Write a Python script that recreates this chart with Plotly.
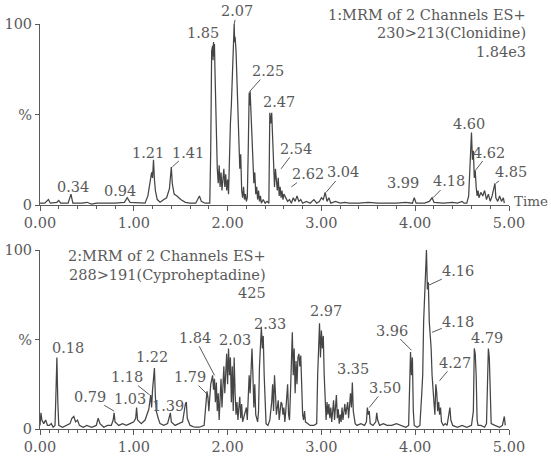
import plotly.graph_objects as go

# ---------------- data ----------------
# Channel 1: 230>213 (Clonidine), relative intensity (%) vs time (min)
clonidine_points = [
    (0.00, 1), (0.05, 1), (0.09, 3), (0.11, 1), (0.18, 1.5), (0.20, 2.5), (0.22, 1),
    (0.30, 1), (0.33, 6), (0.35, 1), (0.45, 1), (0.50, 1.5), (0.55, 0.5), (0.60, 1),
    (0.70, 1), (0.80, 1), (0.90, 1.5), (0.93, 4), (0.96, 1.5), (1.05, 1), (1.12, 1),
    (1.15, 5), (1.17, 12), (1.19, 18), (1.20, 15), (1.21, 25), (1.22, 14), (1.23, 8),
    (1.25, 3), (1.28, 1.5), (1.32, 3), (1.35, 4), (1.38, 9), (1.40, 21), (1.41, 12),
    (1.43, 6), (1.46, 5), (1.50, 3), (1.55, 1.5), (1.60, 1), (1.66, 1), (1.70, 5),
    (1.72, 2), (1.76, 1), (1.81, 1), (1.82, 30), (1.83, 85), (1.84, 88), (1.845, 80),
    (1.85, 90), (1.855, 82), (1.86, 89), (1.865, 75), (1.87, 60), (1.88, 30), (1.89, 20),
    (1.90, 12), (1.91, 22), (1.92, 10), (1.93, 18), (1.94, 8), (1.95, 15), (1.96, 20),
    (1.97, 10), (1.98, 17), (1.99, 8), (2.00, 14), (2.01, 6), (2.02, 30), (2.03, 45),
    (2.04, 55), (2.05, 75), (2.06, 88), (2.065, 92), (2.07, 100), (2.075, 90), (2.08, 93),
    (2.09, 85), (2.10, 70), (2.11, 50), (2.12, 35), (2.13, 20), (2.14, 28), (2.15, 8),
    (2.16, 4), (2.17, 10), (2.18, 3), (2.19, 6), (2.20, 2), (2.21, 4), (2.22, 30),
    (2.23, 62), (2.235, 55), (2.24, 63), (2.25, 50), (2.26, 35), (2.27, 20), (2.28, 12),
    (2.29, 18), (2.30, 6), (2.31, 10), (2.32, 3), (2.33, 8), (2.34, 2), (2.35, 5),
    (2.36, 1), (2.38, 3), (2.40, 1), (2.42, 2), (2.44, 1), (2.45, 51), (2.46, 45),
    (2.47, 51), (2.48, 40), (2.49, 25), (2.50, 10), (2.51, 20), (2.52, 12), (2.53, 8),
    (2.54, 15), (2.55, 5), (2.56, 10), (2.57, 4), (2.58, 8), (2.59, 3), (2.60, 6),
    (2.62, 4), (2.64, 2), (2.66, 3), (2.68, 1), (2.70, 4), (2.72, 2), (2.74, 5),
    (2.76, 2), (2.78, 3), (2.80, 1), (2.84, 2), (2.88, 1), (2.92, 3), (2.95, 1),
    (2.98, 2), (3.00, 4), (3.02, 3), (3.04, 7), (3.06, 2), (3.08, 4), (3.10, 1),
    (3.15, 2), (3.20, 1), (3.25, 1.5), (3.30, 1), (3.40, 1), (3.50, 1.5), (3.60, 1),
    (3.70, 1), (3.80, 1), (3.90, 1.5), (3.97, 1), (3.99, 4), (4.01, 1), (4.10, 1),
    (4.15, 2), (4.18, 4), (4.20, 1.5), (4.30, 1), (4.40, 1.5), (4.45, 1), (4.50, 2),
    (4.52, 1), (4.55, 1), (4.57, 5), (4.58, 20), (4.59, 35), (4.60, 40), (4.61, 25),
    (4.62, 30), (4.63, 15), (4.64, 19), (4.65, 10), (4.66, 5), (4.67, 8), (4.68, 4),
    (4.70, 7), (4.72, 5), (4.74, 8), (4.76, 3), (4.78, 6), (4.80, 2), (4.82, 5),
    (4.84, 9), (4.85, 12), (4.86, 4), (4.88, 2), (4.90, 5), (4.92, 2), (4.94, 4),
    (4.95, 1),
]

# Channel 2: 288>191 (Cyproheptadine)
cypro_points = [
    (0.00, 2), (0.01, 9), (0.02, 5), (0.04, 3), (0.06, 5), (0.08, 2), (0.10, 2),
    (0.12, 3), (0.14, 1), (0.16, 2), (0.17, 20), (0.18, 40), (0.19, 15), (0.20, 2),
    (0.24, 1), (0.28, 2), (0.32, 3), (0.34, 6), (0.36, 7), (0.38, 4), (0.40, 5),
    (0.42, 2), (0.46, 1), (0.50, 2), (0.55, 1), (0.60, 2), (0.62, 6), (0.64, 3),
    (0.68, 1), (0.72, 2), (0.76, 2), (0.78, 5), (0.79, 9), (0.80, 4), (0.84, 2),
    (0.88, 3), (0.92, 2), (0.96, 3), (1.00, 4), (1.02, 6), (1.03, 12), (1.04, 5),
    (1.08, 3), (1.12, 5), (1.14, 8), (1.16, 11), (1.18, 19), (1.19, 12), (1.20, 22),
    (1.21, 28), (1.22, 34), (1.23, 18), (1.24, 10), (1.26, 6), (1.28, 3), (1.32, 2),
    (1.36, 3), (1.38, 7), (1.39, 9), (1.40, 4), (1.44, 2), (1.48, 3), (1.52, 4),
    (1.55, 14), (1.56, 15), (1.57, 6), (1.60, 2), (1.65, 1), (1.70, 1), (1.75, 2),
    (1.77, 15), (1.78, 21), (1.79, 18), (1.80, 10), (1.82, 25), (1.84, 30), (1.85, 22),
    (1.86, 28), (1.87, 15), (1.88, 26), (1.89, 10), (1.90, 20), (1.91, 5), (1.92, 22),
    (1.93, 28), (1.94, 12), (1.95, 30), (1.96, 35), (1.97, 20), (1.98, 38), (1.99, 42),
    (2.00, 25), (2.01, 45), (2.02, 30), (2.03, 40), (2.04, 15), (2.05, 35), (2.06, 10),
    (2.07, 40), (2.08, 20), (2.09, 8), (2.10, 15), (2.11, 5), (2.12, 12), (2.13, 18),
    (2.14, 6), (2.15, 14), (2.16, 4), (2.18, 8), (2.20, 12), (2.21, 5), (2.22, 15),
    (2.23, 30), (2.24, 20), (2.25, 38), (2.26, 45), (2.27, 30), (2.28, 12), (2.29, 25),
    (2.30, 8), (2.32, 4), (2.33, 10), (2.34, 35), (2.35, 50), (2.36, 57), (2.37, 45),
    (2.38, 52), (2.39, 30), (2.40, 10), (2.41, 3), (2.43, 2), (2.45, 5), (2.47, 15),
    (2.48, 25), (2.49, 10), (2.50, 30), (2.51, 20), (2.52, 8), (2.53, 12), (2.54, 16),
    (2.55, 5), (2.57, 15), (2.58, 14), (2.59, 8), (2.60, 12), (2.61, 4), (2.62, 10),
    (2.63, 22), (2.64, 25), (2.65, 8), (2.66, 5), (2.67, 20), (2.68, 35), (2.69, 54),
    (2.70, 30), (2.71, 45), (2.72, 20), (2.73, 38), (2.74, 25), (2.75, 40), (2.76, 42),
    (2.77, 35), (2.78, 41), (2.79, 20), (2.80, 8), (2.81, 5), (2.82, 10), (2.83, 4),
    (2.85, 3), (2.88, 2), (2.92, 2), (2.95, 3), (2.96, 30), (2.97, 45), (2.98, 59),
    (2.99, 40), (3.00, 55), (3.01, 45), (3.02, 52), (3.03, 30), (3.04, 12), (3.05, 5),
    (3.06, 15), (3.07, 8), (3.08, 14), (3.09, 6), (3.10, 12), (3.11, 4), (3.12, 10),
    (3.13, 16), (3.14, 5), (3.15, 13), (3.16, 19), (3.17, 6), (3.18, 11), (3.19, 3),
    (3.20, 8), (3.21, 4), (3.22, 12), (3.23, 5), (3.24, 10), (3.25, 14), (3.26, 8),
    (3.27, 12), (3.28, 15), (3.29, 6), (3.30, 14), (3.31, 20), (3.32, 12), (3.33, 26),
    (3.34, 10), (3.35, 5), (3.36, 3), (3.38, 2), (3.42, 3), (3.46, 2), (3.48, 4),
    (3.49, 12), (3.50, 8), (3.51, 10), (3.52, 3), (3.55, 2), (3.58, 4), (3.59, 9),
    (3.60, 5), (3.62, 2), (3.66, 3), (3.70, 2), (3.75, 2), (3.80, 3), (3.85, 2),
    (3.90, 1), (3.93, 2), (3.94, 35), (3.95, 43), (3.96, 30), (3.97, 40), (3.98, 10),
    (3.99, 2), (4.02, 1), (4.05, 2), (4.07, 20), (4.08, 30), (4.09, 60), (4.10, 75),
    (4.11, 80), (4.12, 100), (4.13, 78), (4.14, 82), (4.15, 60), (4.16, 54), (4.17, 45),
    (4.18, 30), (4.19, 20), (4.20, 15), (4.21, 8), (4.22, 25), (4.23, 20), (4.24, 10),
    (4.25, 15), (4.26, 8), (4.27, 12), (4.28, 4), (4.30, 2), (4.32, 3), (4.34, 2),
    (4.36, 10), (4.37, 12), (4.38, 5), (4.40, 2), (4.45, 1), (4.50, 2), (4.55, 1),
    (4.60, 2), (4.62, 10), (4.63, 45), (4.64, 42), (4.65, 30), (4.66, 5), (4.67, 2),
    (4.70, 2), (4.74, 1), (4.76, 3), (4.77, 30), (4.78, 45), (4.79, 40), (4.80, 20),
    (4.81, 3), (4.85, 2), (4.90, 1), (4.93, 2), (4.95, 7), (4.96, 2),
]

# peak labels: (text, label time, label %, leader tip time or None, leader tip %)
clonidine_labels = [
    ("0.34", 0.35, 10, None, None), ("0.94", 0.85, 7.5, None, None),
    ("1.21", 1.15, 29, None, None), ("1.41", 1.58, 29, 1.41, 21),
    ("1.85", 1.74, 95, None, None), ("2.07", 2.10, 107, 2.07, 100),
    ("2.25", 2.43, 74, 2.24, 63), ("2.47", 2.55, 57, None, None),
    ("2.54", 2.73, 31, 2.57, 20), ("2.62", 2.86, 17, 2.68, 10),
    ("3.04", 3.23, 18, 3.05, 7), ("3.99", 3.87, 12, None, None),
    ("4.18", 4.36, 13, 4.19, 4), ("4.60", 4.57, 45, None, None),
    ("4.62", 4.79, 29, 4.64, 19), ("4.85", 5.02, 18, 4.86, 12),
]
cypro_labels = [
    ("0.18", 0.30, 45, None, None), ("0.79", 0.53, 18, 0.79, 10),
    ("1.03", 0.96, 17, None, None), ("1.18", 0.93, 29, 1.17, 19),
    ("1.22", 1.19, 40, None, None), ("1.39", 1.36, 13, None, None),
    ("1.79", 1.60, 29, 1.79, 19), ("1.84", 1.65, 51, 1.86, 30),
    ("2.03", 2.08, 50, None, None), ("2.33", 2.45, 58.5, None, None),
    ("2.97", 3.05, 66, None, None), ("3.35", 3.34, 33.5, None, None),
    ("3.50", 3.68, 23, 3.51, 12), ("3.96", 3.75, 55, 3.96, 44),
    ("4.16", 4.46, 88, 4.13, 80), ("4.18", 4.46, 60, 4.18, 54),
    ("4.27", 4.42, 37, 4.26, 27), ("4.79", 4.77, 51, None, None),
]

x_ticks = [0, 1, 2, 3, 4, 5]
x_ticktext = ["0.00", "1.00", "2.00", "3.00", "4.00", "5.00"]
y_ticks = [0, 50, 100]
y_ticktext = ["0", "%", "100"]

# ---------------- figure ----------------
W, H = 551, 457
FONT = "DejaVu Serif"
FS = 14.5
INK = "#5a5a5a"
LINE = "#454545"

fig = go.Figure()
fig.add_trace(go.Scatter(x=[p[0] for p in clonidine_points], y=[p[1] for p in clonidine_points],
                         mode="lines", line=dict(color=LINE, width=1.25),
                         xaxis="x", yaxis="y", showlegend=False, cliponaxis=False))
fig.add_trace(go.Scatter(x=[p[0] for p in cypro_points], y=[p[1] for p in cypro_points],
                         mode="lines", line=dict(color=LINE, width=1.25),
                         xaxis="x2", yaxis="y2", showlegend=False, cliponaxis=False))

xdom = [40 / W, 509 / W]
ydom1 = [(H - 205) / H, (H - 24) / H]
ydom2 = [(H - 429) / H, (H - 250) / H]


def xaxis_cfg(anchor, minor_dtick):
    return dict(domain=xdom, range=[0, 5], anchor=anchor, tickvals=x_ticks, ticktext=x_ticktext,
                showline=True, linecolor=INK, linewidth=1, ticks="outside", ticklen=5,
                tickcolor=INK, showgrid=False, zeroline=False,
                minor=dict(dtick=minor_dtick, ticks="outside", ticklen=3, tickcolor=INK),
                tickfont=dict(family=FONT, size=FS, color=INK))


def yaxis_cfg(anchor, dom):
    return dict(domain=dom, range=[0, 100], anchor=anchor, tickvals=y_ticks, ticktext=y_ticktext,
                showline=True, linecolor=INK, linewidth=1, ticks="outside", ticklen=4,
                tickcolor=INK, showgrid=False, zeroline=False,
                tickfont=dict(family=FONT, size=FS, color=INK))


fig.update_layout(
    width=W, height=H, margin=dict(l=0, r=0, t=0, b=0, autoexpand=False),
    paper_bgcolor="white", plot_bgcolor="white",
    xaxis=xaxis_cfg("y", 0.2), yaxis=yaxis_cfg("x", ydom1),
    xaxis2=xaxis_cfg("y2", 0.1), yaxis2=yaxis_cfg("x2", ydom2),
    font=dict(family=FONT, size=FS, color=INK),
)

annotations = []


def add_labels(labels, xref, yref):
    for text, lx, ly, tx, ty in labels:
        if tx is None:
            annotations.append(dict(x=lx, y=ly, xref=xref, yref=yref, text=text, showarrow=False,
                                    font=dict(family=FONT, size=FS, color=INK)))
        else:
            annotations.append(dict(x=tx, y=ty, xref=xref, yref=yref, ax=lx, ay=ly,
                                    axref=xref, ayref=yref, text=text, showarrow=True,
                                    arrowhead=0, arrowwidth=1, arrowcolor=INK, standoff=0,
                                    borderpad=0,
                                    font=dict(family=FONT, size=FS, color=INK)))


add_labels(clonidine_labels, "x", "y")
add_labels(cypro_labels, "x2", "y2")

headers = [
    ("1:MRM of 2 Channels ES+", 528, 15), ("230>213(Clonidine)", 528, 33), ("1.84e3", 528, 52),
    ("2:MRM of 2 Channels ES+", 268, 256), ("288>191(Cyproheptadine)", 268, 275), ("425", 268, 293),
]
for text, px, py in headers:
    annotations.append(dict(x=px / W, y=(H - py) / H, xref="paper", yref="paper", text=text,
                            xanchor="right", yanchor="middle", showarrow=False,
                            font=dict(family=FONT, size=FS, color=INK)))
annotations.append(dict(x=550 / W, y=(H - 201) / H, xref="paper", yref="paper", text="Time",
                        xanchor="right", yanchor="middle", showarrow=False,
                        font=dict(family=FONT, size=13.5, color=INK)))

fig.update_layout(annotations=annotations)
fig.write_html("out.html")
